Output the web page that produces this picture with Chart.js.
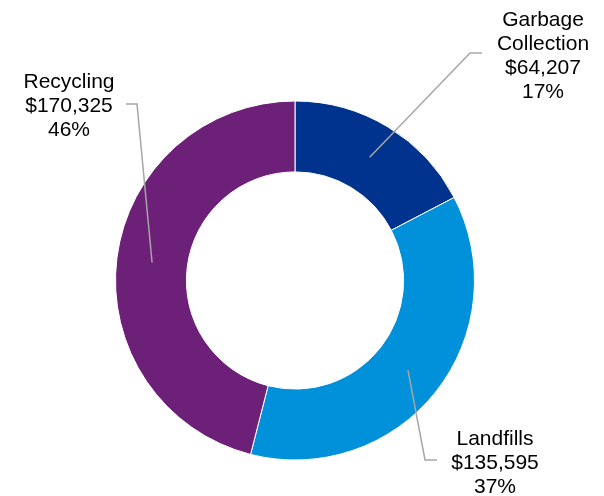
<!DOCTYPE html>
<html>
<head>
<meta charset="utf-8">
<script src="https://cdn.jsdelivr.net/npm/chart.js@4/dist/chart.umd.min.js"></script>
<style>
  html, body { margin: 0; padding: 0; background: #ffffff; }
  #wrap { width: 604px; height: 496px; position: relative; }
</style>
</head>
<body>
<div id="wrap"><canvas id="c" width="604" height="496"></canvas></div>
<script>
// Spending by category
const categories = ['Garbage\nCollection', 'Landfills', 'Recycling'];
const amounts = [64207, 135595, 170325];
const sliceColors = ['#00338D', '#0091DA', '#6D2077'];

// Callout placement for each slice: elbow of the leader line, end of its
// horizontal run, and the centre / first baseline of the text block.
const callouts = [
  { elbow: [470, 53], end: [482, 53], textX: 543, firstBaseline: 26 },
  { elbow: [425, 460], end: [437, 460], textX: 495, firstBaseline: 445 },
  { elbow: [137, 104], end: [126, 104], textX: 69, firstBaseline: 88 }
];

const total = amounts.reduce((a, b) => a + b, 0);
const fmtMoney = v => '$' + v.toLocaleString('en-US');

const calloutPlugin = {
  id: 'callouts',
  afterDatasetsDraw(chart) {
    const ctx = chart.ctx;
    const meta = chart.getDatasetMeta(0);
    ctx.save();
    meta.data.forEach((arc, i) => {
      const c = callouts[i];
      const p = arc.tooltipPosition();
      ctx.beginPath();
      ctx.strokeStyle = '#A6A6A6';
      ctx.lineWidth = 1.5;
      ctx.moveTo(p.x, p.y);
      ctx.lineTo(c.elbow[0], c.elbow[1]);
      ctx.lineTo(c.end[0], c.end[1]);
      ctx.stroke();

      const v = chart.data.datasets[0].data[i];
      const lines = chart.data.labels[i].split('\n');
      lines.push(fmtMoney(v));
      lines.push(Math.round(v / total * 100) + '%');
      ctx.fillStyle = '#000000';
      ctx.font = '21px "Liberation Sans", Arial, sans-serif';
      ctx.textAlign = 'center';
      ctx.textBaseline = 'alphabetic';
      lines.forEach((t, k) => ctx.fillText(t, c.textX, c.firstBaseline + k * 24));
    });
    ctx.restore();
  }
};

new Chart(document.getElementById('c'), {
  type: 'doughnut',
  data: {
    labels: categories,
    datasets: [{
      data: amounts,
      backgroundColor: sliceColors,
      borderColor: '#ffffff',
      borderWidth: 1
    }]
  },
  options: {
    responsive: false,
    animation: false,
    cutout: '60.5%',
    layout: { padding: { left: 115, right: 129, top: 100, bottom: 35 } },
    plugins: {
      legend: { display: false },
      tooltip: { enabled: false }
    }
  },
  plugins: [calloutPlugin]
});
</script>
</body>
</html>
